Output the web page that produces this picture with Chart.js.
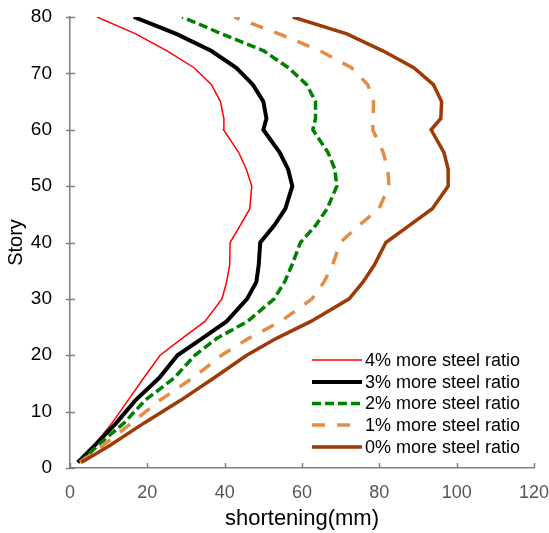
<!DOCTYPE html>
<html>
<head>
<meta charset="utf-8">
<script src="https://cdn.jsdelivr.net/npm/chart.js@4.4.0/dist/chart.umd.min.js"></script>
<style>
html,body{margin:0;padding:0;background:#fff;}
#wrap{width:549px;height:533px;position:relative;}
</style>
</head>
<body>
<div id="wrap"><canvas id="c" width="549" height="533"></canvas></div>
<script>
// Story levels (y values) shared by all series
const stories = [1, 4, 8, 12, 16, 20, 23, 26, 30, 33, 36, 40, 43, 46, 50, 53, 56, 60, 62, 65, 68, 71, 74, 77, 80];
// Shortening (mm) for each series
const steel4 = [2, 6.2, 10.9, 15, 19.1, 23.3, 29.0, 34.9, 39.3, 40.5, 41.3, 41.4, 44, 46.5, 47, 45.6, 43.6, 39.7, 39.8, 38.9, 36.6, 32.1, 25.1, 17, 7];
const steel3 = [2, 6.4, 12, 16.9, 23.1, 27.8, 34.2, 40.5, 45.8, 48.2, 48.8, 49.2, 52.8, 55.7, 57.5, 56.4, 54.2, 50, 50.8, 50, 47.3, 43, 36.5, 27.5, 16.5];
const steel2 = [2.6, 7.2, 14, 19.4, 27, 32.3, 38, 45.9, 52.8, 55.5, 57.4, 59.6, 63.5, 66.5, 69, 68.5, 66.7, 62.8, 63.5, 63.5, 61.2, 56.5, 50.1, 39.3, 29];
const steel1 = [2.6, 8.5, 16, 23.2, 31.8, 39.2, 46.2, 54.5, 62.6, 65.7, 67.9, 69.9, 74.7, 79.9, 82.5, 82.2, 81, 78.3, 78.4, 78.5, 77, 72.8, 64.7, 54.1, 42.5];
const steel0 = [3, 10.3, 19.2, 28.6, 37.3, 45.7, 53.4, 62.3, 72.2, 75.8, 78.7, 81.7, 87.7, 93.7, 97.8, 97.8, 96.7, 93.4, 95.9, 96.1, 94, 88.9, 80.9, 71.6, 57.6];
const seriesLabels = ['4% more steel ratio', '3% more steel ratio', '2% more steel ratio', '1% more steel ratio', '0% more steel ratio'];
const xTicks = [0, 20, 40, 60, 80, 100, 120];
const yTicks = [0, 10, 20, 30, 40, 50, 60, 70, 80];

const FONT = "'Liberation Sans', Arial, sans-serif";
function pts(xs){ return xs.map((v,i)=>({x:v, y:stories[i]})); }

const styles = [
  {color:'#FF0000', width:1.5, dash:[]},
  {color:'#000000', width:4, dash:[]},
  {color:'#008000', width:3.5, dash:[9,4]},
  {color:'#E38C46', width:3.5, dash:[13,12]},
  {color:'#9C3A08', width:3.5, dash:[]}
];
const seriesData = [steel4, steel3, steel2, steel1, steel0];
const datasets = seriesData.map((d,i)=>({
  label: seriesLabels[i],
  data: pts(d),
  showLine: true,
  borderColor: styles[i].color,
  backgroundColor: styles[i].color,
  borderWidth: styles[i].width,
  borderDash: styles[i].dash,
  pointRadius: 0,
  tension: 0,
  fill: false,
  order: 4 - i
}));

const tickMarks = {
  id: 'tickMarks',
  afterDraw(chart){
    const ctx = chart.ctx, xs = chart.scales.x, ys = chart.scales.y;
    ctx.save();
    ctx.strokeStyle = '#808080';
    ctx.lineWidth = 1.5;
    ctx.beginPath();
    yTicks.forEach(v=>{ const y = Math.round(ys.getPixelForValue(v))+0.5; ctx.moveTo(xs.left-4, y); ctx.lineTo(xs.left+5, y); });
    xTicks.forEach(v=>{ const x = Math.round(xs.getPixelForValue(v))+0.5; ctx.moveTo(x, ys.bottom); ctx.lineTo(x, ys.bottom-5); });
    ctx.stroke();
    ctx.restore();
  }
};

const legendBox = {
  id: 'legendBox',
  afterDraw(chart){
    const ctx = chart.ctx;
    const rows = [360, 382, 403.5, 425, 447];
    ctx.save();
    ctx.font = '18px ' + FONT;
    ctx.textBaseline = 'middle';
    ctx.fillStyle = '#000';
    chart.data.datasets.forEach((ds,i)=>{
      const y = rows[i];
      ctx.save();
      ctx.strokeStyle = ds.borderColor;
      ctx.lineWidth = ds.borderWidth;
      ctx.setLineDash(ds.borderDash);
      ctx.beginPath();
      ctx.moveTo(312, y); ctx.lineTo(362, y);
      ctx.stroke();
      ctx.restore();
      ctx.fillText(ds.label, 365, y+1);
    });
    ctx.restore();
  }
};

new Chart(document.getElementById('c'), {
  type: 'scatter',
  data: { datasets },
  options: {
    responsive: false,
    animation: false,
    layout: { padding: { top: 17, right: 15, left: 0, bottom: 0 } },
    plugins: { legend: { display: false }, tooltip: { enabled: false } },
    scales: {
      x: {
        type: 'linear', min: 0, max: 120,
        afterFit(s){ s.height = 65; s.paddingLeft = 0; s.paddingRight = 0; },
        afterBuildTicks(s){ s.ticks = xTicks.map(v=>({value:v})); },
        grid: { display: false, drawTicks: false },
        border: { display: true, color: '#808080', width: 1.5 },
        ticks: { padding: 14, color: '#555', font: { family: FONT, size: 18 } },
        title: { display: true, text: 'shortening(mm)', color: '#000', font: { family: FONT, size: 22 }, padding: { top: 0, bottom: 1 } }
      },
      y: {
        type: 'linear', min: 0, max: 80,
        afterFit(s){ s.width = 70; s.paddingTop = 0; s.paddingBottom = 0; },
        afterBuildTicks(s){ s.ticks = yTicks.map(v=>({value:v})); },
        grid: { display: false, drawTicks: false },
        border: { display: true, color: '#808080', width: 1.5 },
        ticks: { padding: 18, color: '#000', font: { family: FONT, size: 19 } },
        title: { display: true, text: 'Story', color: '#000', font: { family: FONT, size: 20 }, padding: { top: 4, bottom: 0 } }
      }
    }
  },
  plugins: [tickMarks, legendBox]
});
</script>
</body>
</html>
